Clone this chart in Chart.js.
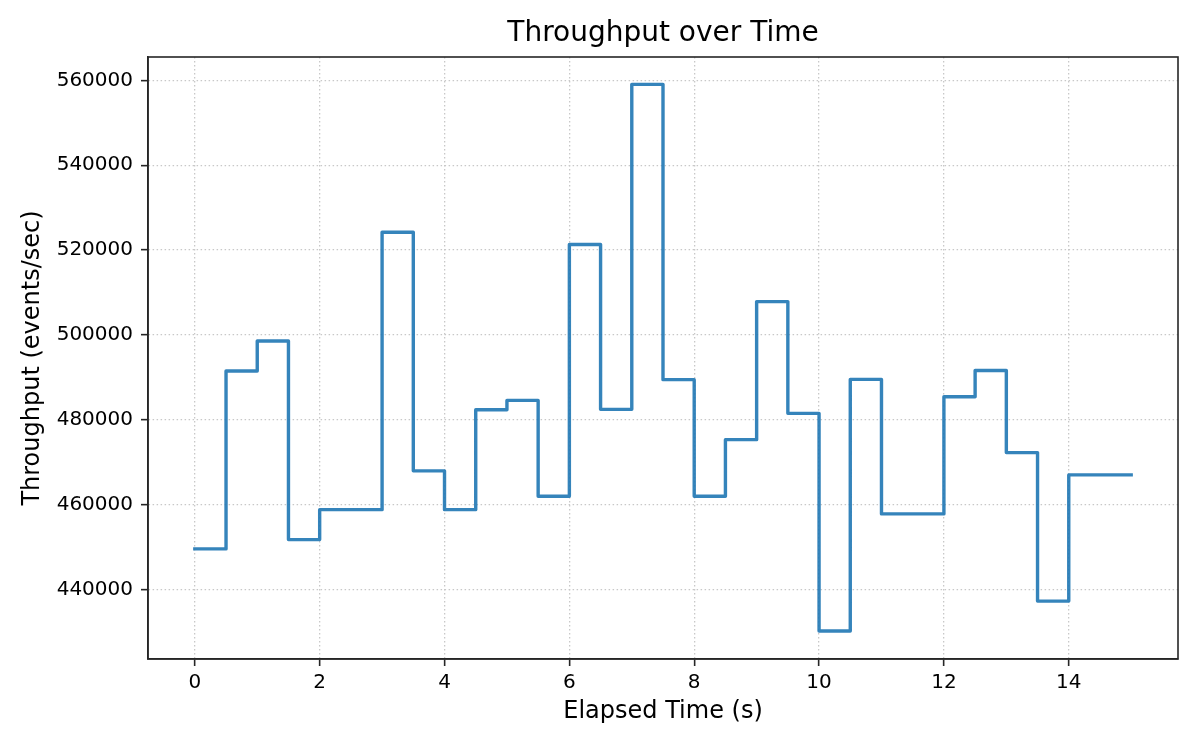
<!DOCTYPE html>
<html>
<head>
<meta charset="utf-8">
<script src="https://cdn.jsdelivr.net/npm/chart.js@4"></script>
<style>
  body { margin: 0; background: #fff; }
  canvas { display: block; }
</style>
</head>
<body>
<canvas id="throughputChart" width="1200" height="750"></canvas>
<script>
const elapsed = [0, 0.5, 1, 1.5, 2, 2.5, 3, 3.5, 4, 4.5, 5, 5.5, 6, 6.5, 7, 7.5,
                 8, 8.5, 9, 9.5, 10, 10.5, 11, 11.5, 12, 12.5, 13, 13.5, 14, 14.5, 15];
const throughput = [449550, 491500, 498550, 451750, 458800, 458800, 524200, 467950,
                    458800, 482350, 484550, 461950, 521300, 482450, 559050, 489450,
                    461950, 475300, 507850, 481500, 430200, 489500, 457800, 457800,
                    485400, 491600, 472250, 437250, 467000, 467000, 467000];
const xTicks = [0, 2, 4, 6, 8, 10, 12, 14];
const yTicks = [440000, 460000, 480000, 500000, 520000, 540000, 560000];
const chartTitle = 'Throughput over Time';

const FONT = 'DejaVu Sans';
const DARK = '#262626';

const points = elapsed.map((t, i) => ({ x: t, y: throughput[i] }));

// matplotlib-style frame, plus the title centred over the plot area
const framePlugin = {
    id: 'frame',
    afterDraw(chart) {
        const { ctx, chartArea: a } = chart;
        ctx.save();
        ctx.strokeStyle = DARK;
        ctx.lineWidth = 1.6;
        ctx.strokeRect(a.left, a.top, a.right - a.left, a.bottom - a.top);
        ctx.fillStyle = '#000';
        ctx.font = '28px "' + FONT + '"';
        ctx.textAlign = 'center';
        ctx.textBaseline = 'middle';
        ctx.fillText(chartTitle, (a.left + a.right) / 2, 34);
        ctx.restore();
    }
};

const ctx = document.getElementById('throughputChart').getContext('2d');
new Chart(ctx, {
    type: 'line',
    data: {
        datasets: [{
            data: points,
            stepped: 'before',
            borderColor: 'rgba(31, 119, 180, 0.9)',
            borderWidth: 3.4,
            borderJoinStyle: 'round',
            borderCapStyle: 'square',
            pointRadius: 0,
            fill: false
        }]
    },
    options: {
        responsive: false,
        animation: false,
        layout: { padding: { left: 0, right: 22, top: 57, bottom: 0 } },
        plugins: {
            legend: { display: false },
            tooltip: { enabled: false },
            title: { display: false }
        },
        scales: {
            x: {
                type: 'linear',
                min: -0.75,
                max: 15.75,
                afterBuildTicks: (scale) => { scale.ticks = xTicks.map(v => ({ value: v })); },
                afterFit: (scale) => { scale.height = 91; },
                grid: {
                    color: '#c8c8c8',
                    lineWidth: 1.3,
                    tickColor: DARK,
                    tickWidth: 1.6,
                    tickLength: 7
                },
                border: { color: DARK, width: 1.6, dash: [1.5, 2.5] },
                ticks: {
                    color: '#000',
                    padding: 5,
                    maxRotation: 0,
                    font: { family: FONT, size: 20 }
                },
                title: {
                    display: true,
                    text: 'Elapsed Time (s)',
                    color: '#000',
                    font: { family: FONT, size: 24 },
                    padding: { top: 0, bottom: 24 }
                }
            },
            y: {
                type: 'linear',
                min: 423600,
                max: 565500,
                afterBuildTicks: (scale) => { scale.ticks = yTicks.map(v => ({ value: v })); },
                afterFit: (scale) => { scale.width = 148; },
                grid: {
                    color: '#c8c8c8',
                    lineWidth: 1.3,
                    tickColor: DARK,
                    tickWidth: 1.6,
                    tickLength: 7
                },
                border: { color: DARK, width: 1.6, dash: [1.5, 2.5] },
                ticks: {
                    color: '#000',
                    padding: 8,
                    font: { family: FONT, size: 20 },
                    callback: (v) => String(v)
                },
                title: {
                    display: true,
                    text: 'Throughput (events/sec)',
                    color: '#000',
                    font: { family: FONT, size: 24 },
                    padding: { top: 18, bottom: 0 }
                }
            }
        }
    },
    plugins: [framePlugin]
});
</script>
</body>
</html>
